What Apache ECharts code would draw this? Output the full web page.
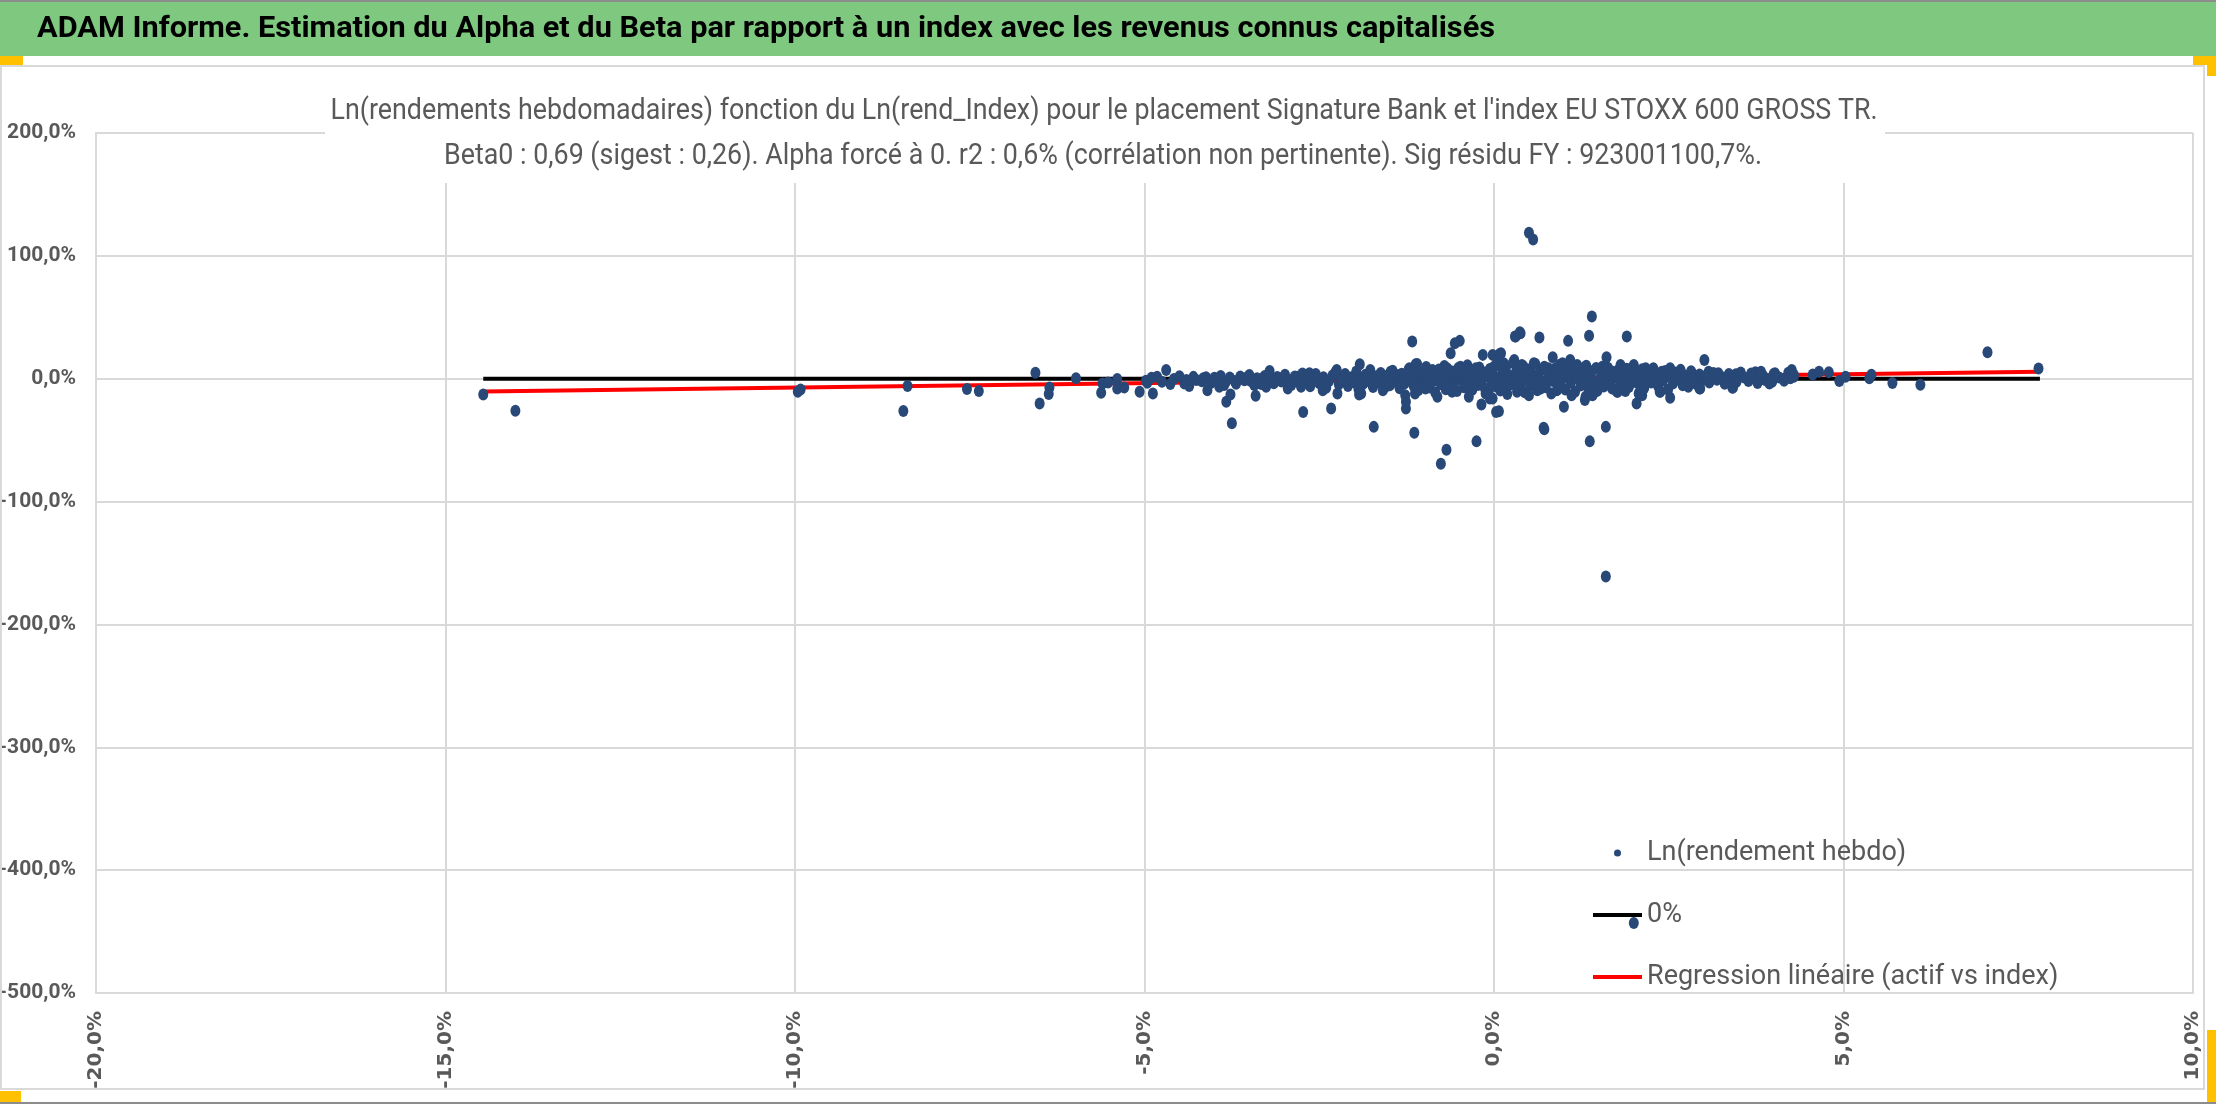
<!DOCTYPE html>
<html lang="fr">
<head>
    <meta charset="UTF-8">
    <title>ADAM Informe - Alpha et Beta</title>
    <script src="https://cdn.jsdelivr.net/npm/echarts@6.0.0/dist/echarts.min.js"></script>
    <style>
        html, body { margin: 0; padding: 0; background: #fff; }
        #chart { width: 2216px; height: 1104px; }
    </style>
</head>
<body>
<div id="chart"></div>

<script>
    // --- texts ---
    var headerText = 'ADAM Informe. Estimation du Alpha et du Beta par rapport à un index avec les revenus connus capitalisés';
    var titleLine1 = "Ln(rendements hebdomadaires) fonction du Ln(rend_Index) pour le placement Signature Bank et l'index EU STOXX 600 GROSS TR.";
    var titleLine2 = 'Beta0 : 0,69 (sigest : 0,26). Alpha forcé à 0. r2 : 0,6% (corrélation non pertinente). Sig résidu FY : 923001100,7%.';
    var seriesNames = ['Ln(rendement hebdo)', '0%', 'Regression linéaire (actif vs index)'];

    // --- axes (values in %) ---
    var xRange = [-20, 10, 5];     // min, max, step
    var yRange = [-500, 200, 100];

    // --- Ln(rendement hebdo) points, [index %, placement %] ---
    var leftTail = [[-14.46,-12.8],[-14.0,-26.0],[-9.96,-10.6],[-9.92,-8.7],[-8.39,-6.0],[-8.45,-26.2],[-7.54,-8.4],[-7.37,-10.1],
        [-6.56,4.9],[-6.50,-20.2],[-6.36,-7.1],[-6.37,-12.5],[-5.98,0.3],[-5.62,-11.4],[-5.60,-3.8],[-5.52,-3.0],[-5.39,-0.3],
        [-5.39,-7.9],[-5.29,-7.1],[-5.07,-10.6],[-4.96,-3.3],[-4.88,-12.0],[-4.82,1.6],[-4.69,7.1],[-4.63,-4.3],[-4.43,-3.8],
        [-4.36,-6.0],[-4.26,-1.1],[-4.98,-1.6],[-4.90,0.8],[-4.75,-2.5],[-4.58,-0.2],[-4.50,2.1],[-4.40,-1.0],[-4.30,1.5]];

    var rightTail = [[4.24,0.3],[4.56,3.5],[4.65,5.7],[4.79,5.2],[4.94,-1.9],[5.03,1.6],[5.37,0.3],[5.40,3.2],[5.70,-3.5],
        [6.10,-5.0],[7.06,21.5],[7.79,8.4],[3.94,-3.8],[3.75,-1.1],[3.68,4.3],[3.82,5.7],[4.01,1.6],[4.29,3.2],[3.41,-7.4],
        [3.01,15.3],[2.95,-7.9]];

    var outliers = [[0.50,118.8],[0.56,113.4],[1.40,50.7],[1.60,-161],[2.0,-443],[1.36,34.9],[1.90,34.3],[0.37,37.9],[0.30,34.3],
        [0.65,33.5],[1.06,30.8],[-1.17,30.3],[-0.49,30.8],[-0.56,28.9],[-0.62,20.7],[-0.16,19.4],[-0.02,19.4],[0.08,20.2],
        [0.84,17.4],[1.61,17.4],[-1.92,11.7],[-3.21,6.3],[-2.25,7.1],[-1.10,12.0],[-3.83,-18.8],[-3.77,-12.8],[-3.75,-36.2],
        [-3.41,-13.9],[-2.73,-27.0],[-2.33,-24.3],[-1.93,-12.8],[-1.72,-39.2],[-1.26,-24.3],[-1.26,-18.8],[-1.27,-13.4],
        [-1.14,-43.9],[-0.76,-69.2],[-0.68,-57.8],[-0.25,-51.0],[-0.18,-21.0],[0.03,-27.0],[-0.06,-16.1],[0.50,-13.4],
        [0.72,-41.1],[1.00,-22.9],[1.11,-13.4],[1.30,-17.4],[1.41,-13.4],[1.37,-51.0],[1.60,-39.2],[1.77,-10.6],[1.88,-10.1],
        [2.04,-20.2],[2.12,-13.4],[2.37,-10.6],[2.52,-15.5],[2.94,-7.9],[3.42,-7.1]];

    var bandEdge = [[-4.16,0.3],[-4.10,-9.3],[-4.00,0.8],[-3.93,-6.5],[-3.86,-5.2],[-3.71,-1.9],[-3.52,1.6],[-3.48,-1.9],
        [-3.43,-5.2],[-3.31,0.3],[-3.26,-6.5],[-3.17,-1.9],[-3.07,0.3],[-2.98,-2.4],[-2.95,-7.9],[-2.81,1.6],[-2.76,-6.5],
        [-2.64,4.4],[-2.55,0.3],[-2.45,-9.3],[-2.38,-2.4],[-2.24,-12.0],[-2.17,0.3],[-2.07,-2.4],[-1.98,3.0],[-1.90,-12.0],
        [-1.83,0.3],[-1.74,-5.2],[-1.64,3.0],[-1.55,-6.5],[-1.48,5.7],[-1.40,-2.4],[-1.36,3.0],[-1.21,8.5],[-1.12,11.7],
        [-1.13,-12.0],[-1.07,-2.4],[-0.98,-7.9],[-0.88,7.1],[-0.81,-14.7],[-0.76,0.3],[-0.67,8.5],[-0.60,-10.6],[-0.48,9.8],
        [-0.40,-6.5],[-0.36,-14.7],[-0.26,8.5],[-0.12,-12.0],[0.0,9.8],[-0.02,-16.1],
        [0.07,-26.4],[0.10,20.7],[0.14,12.5],[0.17,-9.3],[0.29,15.3],[0.31,34.3],[0.38,37.1],[0.33,-10.6],[0.40,11.2],
        [0.57,12.5],[0.71,-40.0],[0.67,-7.9],[0.78,8.5],[0.90,-9.3],[0.98,12.5],[1.09,15.3],[1.19,11.2],[1.31,-14.7],
        [1.38,-12.8],[1.31,9.8],[1.45,-7.9],[1.55,9.8],[1.69,-7.9],[1.76,-10.6],[1.81,11.2],[2.00,11.2],[2.07,-12.0],
        [2.17,8.5],[2.26,-2.4],[2.38,-10.6],[2.40,5.7],[2.52,8.5],[2.64,3.0],[2.78,-6.5],[2.83,4.4],[3.07,5.7],[3.12,0.3],
        [3.21,4.4],[3.33,-1.9],[3.46,3.6],[3.62,0.3],[3.74,5.2],[3.83,1.6],[3.88,-1.1],[3.98,-2.4],[4.02,4.4],[4.26,7.1],
        [4.29,1.6]];

    var bandCore = [[-4.18,-2.1],[-4.12,1.2],[-4.05,-3.4],[-3.98,-0.6],[-3.91,2.3],[-3.84,-2.8],[-3.78,0.9],[-3.69,-4.1],
        [-3.63,1.9],[-3.57,-1.3],[-3.5,3.1],[-3.44,-2.6],[-3.39,0.4],[-3.33,-4.4],[-3.28,2.2],[-3.22,-1.0],[-3.15,-3.6],
        [-3.1,1.4],[-3.04,-2.2],
        [-2.99,3.3],[-2.94,-0.8],[-2.9,-5.1],[-2.85,1.9],[-2.79,-3.1],[-2.74,4.2],[-2.69,-1.4],[-2.63,-6.2],[-2.6,0.7],
        [-2.55,3.8],[-2.5,-3.7],[-2.44,1.2],[-2.4,-7.4],[-2.36,-1.9],[-2.31,2.6],[-2.27,5.3],[-2.22,-4.6],[-2.18,-0.3],
        [-2.13,3.9],[-2.09,-6.0],[-2.04,1.1],[-2.01,-2.8],
        [-1.97,5.8],[-1.94,-8.3],[-1.91,0.4],[-1.87,-4.2],[-1.84,3.2],[-1.8,-1.6],[-1.77,7.1],[-1.73,-6.7],[-1.7,1.8],
        [-1.66,-3.1],[-1.62,4.6],[-1.59,-9.4],[-1.56,-0.7],[-1.52,2.7],[-1.49,-5.3],[-1.45,6.4],[-1.42,-2.2],[-1.38,0.9],
        [-1.35,-7.8],[-1.32,4.1],[-1.28,-3.9],[-1.25,1.5],[-1.22,7.7],[-1.18,-1.0],[-1.15,-5.9],[-1.12,3.6],[-1.08,-9.1],
        [-1.05,0.2],[-1.02,5.2],
        [-0.99,-3.4],[-0.97,9.6],[-0.94,1.3],[-0.92,-7.2],[-0.89,4.8],[-0.87,-1.8],[-0.84,-11.2],[-0.81,2.9],[-0.79,7.4],
        [-0.76,-4.6],[-0.74,0.6],[-0.71,10.3],[-0.69,-8.5],[-0.66,3.7],[-0.63,-2.4],[-0.61,6.1],[-0.58,-5.8],[-0.56,1.0],
        [-0.53,-10.1],[-0.51,8.8],[-0.48,-0.9],[-0.46,4.3],[-0.43,-6.9],[-0.41,2.1],[-0.38,11.0],[-0.36,-3.1],[-0.33,6.7],
        [-0.31,-9.0],[-0.28,0.3],[-0.26,3.5],[-0.23,-5.2],[-0.21,9.1],[-0.18,-1.5],[-0.16,5.4],[-0.13,-7.8],[-0.11,1.8],
        [-0.08,-11.6],[-0.06,7.9],[-0.03,-2.9],[-0.01,3.1],
        [0.02,-6.1],[0.04,11.8],[0.07,0.8],[0.09,-9.6],[0.12,5.7],[0.14,-2.0],[0.17,8.9],[0.19,-12.4],[0.22,2.6],[0.24,-4.7],
        [0.27,13.0],[0.29,-0.4],[0.32,6.5],[0.34,-8.1],[0.37,3.4],[0.39,-3.6],[0.42,10.2],[0.44,-11.0],[0.47,1.2],[0.49,7.6],
        [0.52,-5.5],[0.54,4.4],[0.57,-1.2],[0.59,12.1],[0.62,-9.3],[0.64,2.0],[0.67,6.9],[0.69,-3.8],[0.72,9.7],[0.74,-7.0],
        [0.77,0.1],[0.79,4.9],[0.82,-12.0],[0.84,-1.9],[0.87,8.2],[0.89,3.0],[0.92,-5.9],[0.94,11.3],[0.97,-0.7],[0.99,5.6],
        [1.02,-8.8],[1.05,2.4],[1.07,9.4],[1.1,-3.2],[1.13,5.1],[1.16,-10.7],[1.18,0.5],[1.21,7.3],[1.24,-5.6],[1.26,3.3],
        [1.29,-1.4],[1.32,10.6],[1.35,-7.9],[1.37,1.6],[1.4,6.0],[1.43,-3.5],[1.46,8.7],[1.48,-9.9],[1.51,-0.2],[1.54,4.5],
        [1.57,-6.3],[1.6,2.2],[1.63,9.0],[1.66,-2.7],[1.69,5.9],[1.72,-8.4],[1.75,0.9],[1.78,7.0],[1.81,-4.4],[1.84,3.6],
        [1.87,-0.9],[1.9,8.1],[1.93,-6.8],[1.96,2.9],[1.99,-2.5],
        [2.03,5.5],[2.06,-4.0],[2.09,1.3],[2.12,7.8],[2.15,-7.6],[2.18,-0.6],[2.21,4.2],[2.25,-3.0],[2.28,8.6],[2.31,0.7],
        [2.35,-6.2],[2.38,3.8],[2.42,-1.5],[2.45,6.3],[2.49,-8.9],[2.52,1.9],[2.56,-3.9],[2.6,5.0],[2.63,-0.4],[2.67,7.2],
        [2.7,-5.4],[2.74,2.5],[2.78,-2.1],[2.82,6.0],[2.86,0.3],[2.9,-4.6],[2.94,3.4],[2.98,-1.2],
        [3.03,2.0],[3.08,-3.1],[3.14,4.6],[3.19,-0.8],[3.25,1.7],[3.3,-4.2],[3.36,3.9],[3.41,0.2],[3.47,-2.5],[3.53,5.1],
        [3.58,1.0],[3.64,-1.8],[3.7,3.0],[3.77,-3.4],[3.85,2.4],[3.92,-0.5],[4.0,3.8],[4.08,0.9],[4.15,-1.6],[4.21,4.9]];

    // --- lines ---
    var zeroLine = [[-14.46, 0], [7.81, 0]];
    var regressionLine = [[-14.46, -10.5], [7.81, 5.6]];

    var GRAY = '#595959';
    var GRID = '#D9D9D9';
    var BLUE = '#284878';

    function pct(v) {
        return v.toFixed(1).replace('.', ',') + '%';
    }

    // squeeze a text to the width it has in the picture (narrow Excel font)
    function fitScale(text, font, target) {
        var ctx = document.createElement('canvas').getContext('2d');
        ctx.font = font;
        return target / ctx.measureText(text).width;
    }

    var chart = echarts.init(document.getElementById('chart'));

    var option = {
        animation: false,
        backgroundColor: '#fff',
        grid: {left: 96, right: 23, top: 133, bottom: 111, containLabel: false, outerBoundsMode: 'none'},
        xAxis: {
            type: 'value',
            min: xRange[0], max: xRange[1], interval: xRange[2],
            axisLine: {show: true, onZero: false, lineStyle: {color: GRID, width: 2}},
            axisTick: {show: false},
            splitLine: {show: true, lineStyle: {color: GRID, width: 2}},
            axisLabel: {
                rotate: 90, margin: 18,
                color: GRAY, fontSize: 20, fontWeight: 'bold', fontFamily: 'DejaVu Sans',
                formatter: pct
            }
        },
        yAxis: {
            type: 'value',
            min: yRange[0], max: yRange[1], interval: yRange[2],
            axisLine: {show: true, onZero: false, lineStyle: {color: GRID, width: 2}},
            axisTick: {show: false},
            splitLine: {show: true, lineStyle: {color: GRID, width: 2}},
            axisLabel: {
                margin: 20,
                color: GRAY, fontSize: 21, fontWeight: 'bold', fontFamily: 'Roboto',
                formatter: pct
            }
        },
        legend: {
            orient: 'vertical',
            left: 1593, top: 838,
            padding: 0,
            itemWidth: 49, itemHeight: 7, itemGap: 32,
            symbolKeepAspect: true,
            selectedMode: false,
            textStyle: {color: GRAY, fontSize: 27, fontFamily: 'Roboto', lineHeight: 30},
            data: [
                {name: seriesNames[0], icon: 'circle'},
                {name: seriesNames[1], icon: 'path://M0,0H49V4H0Z'},
                {name: seriesNames[2], icon: 'path://M0,0H49V4H0Z'}
            ]
        },
        series: [
            {
                name: seriesNames[1],
                type: 'line',
                data: zeroLine,
                symbol: 'none',
                color: '#000000',
                lineStyle: {color: '#000000', width: 4},
                z: 2
            },
            {
                name: seriesNames[2],
                type: 'line',
                data: regressionLine,
                symbol: 'none',
                color: '#FF0000',
                lineStyle: {color: '#FF0000', width: 4},
                z: 2
            },
            {
                name: seriesNames[0],
                type: 'scatter',
                data: leftTail.concat(bandEdge, bandCore, outliers, rightTail),
                symbol: 'circle',
                symbolSize: [10, 12],
                color: BLUE,
                itemStyle: {color: BLUE, opacity: 1},
                z: 3
            }
        ],
        graphic: [
            // green report header
            {type: 'rect', z: 50, shape: {x: 0, y: 0, width: 2216, height: 56}, style: {fill: '#7EC87F'}},
            {type: 'rect', z: 51, shape: {x: 0, y: 0, width: 2216, height: 2}, style: {fill: '#8C8C8C'}},
            {
                type: 'text', z: 52, x: 37, y: 29,
                scaleX: fitScale(headerText, 'bold 30px Roboto', 1458),
                style: {
                    text: headerText, fill: '#000000',
                    fontSize: 30, fontWeight: 'bold', fontFamily: 'Roboto',
                    align: 'left', verticalAlign: 'middle', textAlign: 'left', textVerticalAlign: 'middle'
                }
            },
            // chart frame
            {type: 'rect', z: 40, shape: {x: 1, y: 66, width: 2203, height: 1023},
                style: {fill: null, stroke: GRID, lineWidth: 2}},
            {type: 'rect', z: 51, shape: {x: 0, y: 1102, width: 2216, height: 2}, style: {fill: '#8C8C8C'}},
            // selection handles
            {type: 'rect', z: 53, shape: {x: 0, y: 56, width: 23, height: 9}, style: {fill: '#FFC000'}},
            {type: 'rect', z: 53, shape: {x: 2193, y: 56, width: 23, height: 9}, style: {fill: '#FFC000'}},
            {type: 'rect', z: 53, shape: {x: 2207, y: 56, width: 9, height: 20}, style: {fill: '#FFC000'}},
            {type: 'rect', z: 53, shape: {x: 0, y: 1091, width: 21, height: 11}, style: {fill: '#FFC000'}},
            {type: 'rect', z: 53, shape: {x: 2207, y: 1030, width: 9, height: 72}, style: {fill: '#FFC000'}},
            // chart title box, hides the grid behind it
            {type: 'rect', z: 60, shape: {x: 325, y: 80, width: 1560, height: 103}, style: {fill: '#ffffff'}},
            {
                type: 'text', z: 61, x: 1104, y: 112,
                scaleX: fitScale(titleLine1, '29px Roboto', 1547),
                style: {
                    text: titleLine1, fill: GRAY, fontSize: 29, fontFamily: 'Roboto',
                    align: 'center', verticalAlign: 'middle', textAlign: 'center', textVerticalAlign: 'middle'
                }
            },
            {
                type: 'text', z: 61, x: 1103, y: 157,
                scaleX: fitScale(titleLine2, '29px Roboto', 1318),
                style: {
                    text: titleLine2, fill: GRAY, fontSize: 29, fontFamily: 'Roboto',
                    align: 'center', verticalAlign: 'middle', textAlign: 'center', textVerticalAlign: 'middle'
                }
            }
        ]
    };

    chart.setOption(option);
</script>
</body>
</html>
